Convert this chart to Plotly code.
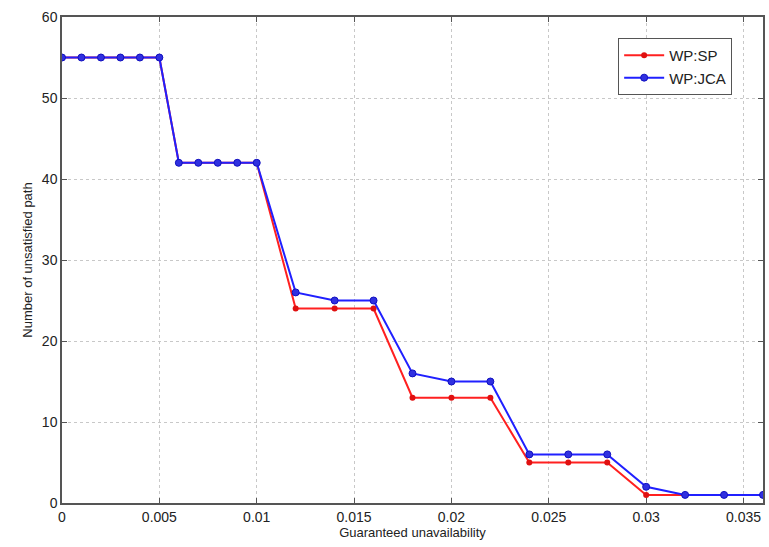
import plotly.graph_objects as go

x = [0, 0.001, 0.002, 0.003, 0.004, 0.005, 0.006, 0.007, 0.008, 0.009, 0.010,
     0.012, 0.014, 0.016, 0.018, 0.020, 0.022, 0.024, 0.026, 0.028, 0.030,
     0.032, 0.034, 0.036]
wp_sp = [55, 55, 55, 55, 55, 55, 42, 42, 42, 42, 42,
         24, 24, 24, 13, 13, 13, 5, 5, 5, 1, 1, 1, 1]
wp_jca = [55, 55, 55, 55, 55, 55, 42, 42, 42, 42, 42,
          26, 25, 25, 16, 15, 15, 6, 6, 6, 2, 1, 1, 1]
x_ticks = [0, 0.005, 0.01, 0.015, 0.02, 0.025, 0.03, 0.035]
x_tick_text = ["0", "0.005", "0.01", "0.015", "0.02", "0.025", "0.03", "0.035"]
y_ticks = [0, 10, 20, 30, 40, 50, 60]

fig = go.Figure()
fig.add_trace(go.Scatter(x=x, y=wp_sp, name="WP:SP", mode="lines+markers",
                         line=dict(color="#ff2020", width=2),
                         marker=dict(symbol="circle", size=6, color="#e01010")))
fig.add_trace(go.Scatter(x=x, y=wp_jca, name="WP:JCA", mode="lines+markers",
                         line=dict(color="#2020ff", width=2),
                         marker=dict(symbol="circle", size=7, color="#3030e0",
                                     line=dict(color="#1010c0", width=1))))

axis_common = dict(showline=True, linecolor="#555555", linewidth=1.5, mirror="ticks",
                   ticks="inside", ticklen=5, tickcolor="#555555",
                   showgrid=True, gridcolor="#c8c8c8", griddash="dot", gridwidth=1,
                   zeroline=False, tickfont=dict(family="Liberation Sans, Arial", size=14, color="#222222"))

fig.update_layout(
    width=769, height=547,
    margin=dict(l=62, r=4, t=17, b=44),
    paper_bgcolor="white", plot_bgcolor="white",
    font=dict(family="Liberation Sans, Arial", color="#222222"),
    xaxis=dict(range=[0, 0.036], tickvals=x_ticks, ticktext=x_tick_text,
               title=dict(text="Guaranteed unavailability", font=dict(size=13), standoff=2),
               **axis_common),
    yaxis=dict(range=[0, 60], tickvals=y_ticks,
               title=dict(text="Number of unsatisfied path", font=dict(size=13), standoff=6),
               **axis_common),
    legend=dict(x=0.956, y=0.957, xanchor="right", yanchor="top",
                bgcolor="white", bordercolor="#555555", borderwidth=1,
                font=dict(size=15, color="#222222"), itemwidth=40,
                tracegroupgap=8),
    showlegend=True,
)

fig.write_html("out.html")
